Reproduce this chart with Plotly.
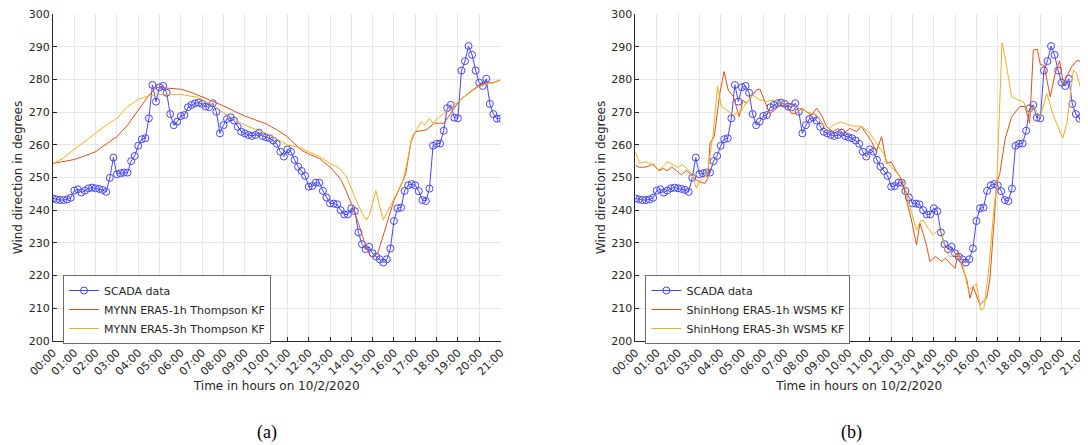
import plotly.graph_objects as go

# ---------------- data ----------------
hour_ticks = list(range(22))
hour_labels = [f"{h:02d}:00" for h in hour_ticks]

# SCADA wind direction, 10-minute samples from 00:00 to 21:00
scada_dir = [
    243.6, 243.3, 243.1, 243.1, 243.3, 243.8,
    246.0, 246.4, 245.4, 246.0, 246.7, 246.9, 246.7, 246.5, 246.2, 245.6,
    249.9, 256.1, 251.0, 251.3, 251.5, 251.5, 255.0, 256.6, 259.7, 261.7, 262.0, 268.1,
    278.3, 273.2, 277.6, 278.0, 275.9, 269.4, 266.0, 267.1, 268.8, 269.1, 271.5, 272.2,
    272.7, 272.9, 272.5, 271.7, 271.5, 272.7, 270.1, 263.5, 266.0, 267.9, 268.4, 267.4,
    265.5, 264.0, 263.5, 263.0, 262.7, 263.0, 263.7, 262.7, 262.3, 262.0, 261.3, 260.3,
    257.9, 256.4, 258.6, 257.9, 255.4, 253.3, 252.0, 250.5, 247.2, 247.4, 248.4, 248.4,
    245.9, 243.9, 242.1, 242.0, 241.8, 240.0, 238.7, 238.7, 240.6, 239.7, 233.2, 229.6,
    228.1, 228.8, 226.8, 225.8, 225.0, 224.0, 225.0, 228.3, 236.7, 240.6, 240.8, 245.9,
    247.6, 248.0, 247.6, 245.8, 243.1, 242.8, 246.6, 259.7, 260.3, 260.4, 264.3, 271.2,
    272.2, 268.3, 268.1, 282.7, 285.6, 290.2, 287.5, 282.7, 279.0, 278.0, 280.2, 272.5,
    269.4, 268.0, 268.0,
]
scada_hours = [i / 6 for i in range(len(scada_dir))]

# (a) MYNN ERA5-1h Thompson KF
mynn1h_hours = [0, 0.63, 1.0, 1.5, 2.0, 2.64, 3.0, 3.5, 4.0, 4.5, 4.85, 5.5, 6.0, 6.5, 7.0, 7.5,
                8.0, 8.5, 9.0, 9.5, 10.0, 10.5, 11.0, 11.3, 11.7, 12.0, 12.5, 13.0, 13.5, 13.75,
                14.0, 14.33, 14.6, 14.85, 15.0, 15.25, 15.5, 15.75, 16.0, 16.25, 16.55, 16.8,
                17.0, 17.5, 17.9, 18.35, 18.7, 19.1, 19.5, 20.0, 20.3, 20.6, 21.0]
mynn1h_dir = [254.3, 255.0, 255.5, 256.6, 257.9, 260.9, 262.5, 266.0, 270.6, 275.2, 277.6, 277.2,
              277.0, 276.0, 274.7, 273.2, 271.9, 270.3, 268.8, 267.6, 266.4, 264.6, 262.5, 260.5,
              258.2, 257.2, 255.8, 253.2, 249.5, 246.0, 242.0, 236.0, 230.5, 226.5, 225.5, 227.0,
              232.5, 237.5, 243.0, 246.5, 251.0, 261.0, 264.0, 264.5, 266.6, 266.6, 269.8, 273.7,
              275.8, 278.3, 279.0, 278.9, 279.8]

# (a) MYNN ERA5-3h Thompson KF
mynn3h_hours = [0, 0.5, 1.0, 1.5, 2.0, 2.5, 3.0, 3.5, 4.0, 4.5, 5.0, 6.0, 6.8, 7.5, 8.0, 9.0,
                10.0, 11.0, 11.6, 12.0, 12.5, 13.0, 13.4, 13.75, 14.0, 14.3, 14.55, 14.7, 14.85,
                15.15, 15.3, 15.5, 15.7, 16.0, 16.4, 16.6, 16.85, 17.1, 17.27, 17.43, 17.67,
                17.83, 18.15, 18.46, 18.86, 19.3, 19.86, 20.2, 20.6, 21.0]
mynn3h_dir = [254.3, 256.0, 258.6, 261.0, 263.5, 266.0, 268.1, 271.7, 273.9, 275.0, 275.4, 275.4,
              274.5, 272.2, 269.8, 266.0, 263.5, 260.0, 259.1, 257.9, 256.4, 254.3, 253.0, 250.5,
              246.5, 242.0, 238.5, 237.0, 238.5, 246.0, 242.0, 237.0, 239.7, 243.6, 248.5, 254.0,
              262.5, 265.0, 267.0, 266.0, 268.1, 266.6, 268.6, 270.1, 272.2, 274.7, 277.3, 278.3,
              279.0, 279.8]

# (b) ShinHong ERA5-1h WSM5 KF
shin1h_hours = [0, 0.2, 0.5, 0.83, 1.1, 1.3, 1.5, 1.7, 1.93, 2.16, 2.4, 2.63, 2.86, 3.0, 3.26,
                3.4, 3.5, 3.7, 3.96, 4.16, 4.35, 4.6, 4.87, 5.05, 5.2, 5.45, 5.68, 5.84, 6.07,
                6.3, 6.54, 6.78, 7.1, 7.32, 7.55, 7.8, 8.03, 8.26, 8.5, 8.73, 8.97, 9.28, 9.5,
                9.75, 10.06, 10.37, 10.6, 10.84, 11.08, 11.3, 11.55, 11.78, 12.0, 12.25, 12.5,
                12.72, 12.95, 13.19, 13.35, 13.5, 13.67, 13.82, 14.06, 14.2, 14.37, 14.53, 14.76,
                15.0, 15.15, 15.3, 15.55, 15.7, 15.85, 16.16, 16.48, 16.63, 16.8, 16.95, 17.1,
                17.34, 17.65, 18.04, 18.28, 18.5, 18.67, 18.86, 19.0, 19.17, 19.46, 19.7, 19.9,
                20.08, 20.27, 20.47, 20.73, 20.9, 21.0]
shin1h_dir = [253.6, 253.1, 253.2, 254.1, 252.1, 252.7, 252.1, 253.2, 252.1, 250.8, 252.2, 250.8,
              249.2, 248.7, 248.2, 249.8, 260.5, 262.5, 275.7, 282.4, 276.8, 274.7, 268.6, 273.7,
              272.7, 274.7, 276.8, 277.0, 273.2, 269.6, 270.6, 272.2, 271.7, 269.6, 269.6, 271.2,
              270.1, 269.1, 271.2, 269.1, 265.5, 264.0, 265.0, 263.5, 265.0, 264.0, 265.7, 263.5,
              261.0, 257.9, 262.5, 254.3, 254.8, 251.8, 249.2, 243.1, 237.0, 229.4, 236.0, 232.9,
              228.9, 224.3, 225.8, 225.3, 224.3, 225.3, 223.8, 222.2, 227.3, 223.2, 218.7, 213.1,
              216.6, 211.1, 213.1, 218.7, 233.9, 248.2, 251.3, 261.5, 268.6, 271.7, 271.7, 266.6,
              289.0, 289.2, 284.4, 284.4, 274.7, 281.9, 285.7, 278.8, 281.3, 283.9, 285.9, 285.4,
              273.2]

# (b) ShinHong ERA5-3h WSM5 KF
shin3h_hours = [0, 0.2, 0.5, 0.83, 1.1, 1.3, 1.5, 1.77, 2.0, 2.2, 2.4, 2.63, 2.86, 3.0, 3.26,
                3.4, 3.65, 3.85, 4.04, 4.27, 4.6, 4.9, 5.2, 5.5, 5.84, 6.15, 6.46, 6.78, 7.1,
                7.55, 8.03, 8.5, 8.97, 9.28, 9.6, 9.9, 10.2, 10.5, 10.77, 11.0, 11.3, 11.63,
                11.86, 12.3, 12.56, 12.88, 13.19, 13.35, 13.5, 13.74, 13.97, 14.2, 14.37, 14.53,
                14.76, 15.0, 15.15, 15.39, 15.62, 15.83, 16.0, 16.2, 16.35, 16.56, 16.8, 16.95,
                17.2, 17.34, 17.5, 17.65, 17.97, 18.2, 18.44, 18.67, 19.0, 19.3, 19.6, 19.85,
                20.05, 20.24, 20.4, 20.55, 20.7, 20.86, 21.0]
shin3h_dir = [257.9, 254.3, 254.8, 253.8, 252.3, 253.3, 254.8, 253.8, 253.1, 254.0, 252.8, 251.3,
              246.7, 248.7, 250.2, 252.3, 263.5, 277.8, 271.7, 270.6, 269.1, 270.1, 272.7, 275.2,
              273.7, 273.2, 273.7, 273.2, 272.5, 271.5, 270.1, 269.1, 264.5, 266.0, 267.0, 266.4,
              265.7, 265.7, 265.0, 263.5, 260.5, 257.4, 254.3, 251.3, 249.2, 241.1, 233.9, 236.5,
              237.0, 234.4, 232.4, 233.9, 233.4, 227.8, 225.8, 226.3, 226.3, 222.2, 215.6, 216.6,
              217.6, 209.5, 210.0, 220.7, 239.0, 247.7, 291.2, 286.9, 280.8, 274.7, 273.7, 273.2,
              269.6, 271.7, 268.6, 275.7, 269.1, 265.0, 262.0, 266.6, 275.7, 282.9, 281.9, 277.8,
              276.3]

legend_a = ["SCADA data", "MYNN ERA5-1h Thompson KF", "MYNN ERA5-3h Thompson KF"]
legend_b = ["SCADA data", "ShinHong ERA5-1h WSM5 KF", "ShinHong ERA5-3h WSM5 KF"]
panel_labels = ["(a)", "(b)"]
x_title = "Time in hours on 10/2/2020"
y_title = "Wind direction in degrees"

# ---------------- styling / layout ----------------
# the page body has an 8px default margin, so the figure is drawn 8px smaller
# and all target pixel positions are shifted by that offset
OFF = 8
W, H = 1088 - OFF, 445 - OFF
ML, MR, MT, MB = 53.3 - OFF, 4.7, 14 - OFF, 104
PW, PH = W - ML - MR, H - MT - MB


def px_x(px):
    return (px - OFF - ML) / PW


def px_y(py):
    return (H - MB - (py - OFF)) / PH


BLUE = "rgb(70,70,255)"
RED = "rgb(217,83,25)"
YEL = "rgb(237,177,32)"
AX = "#262626"
GRID = "#e6e6e6"
FONT = "DejaVu Sans"

fig = go.Figure()

panels = [
    ("x", "y", "legend", legend_a, (mynn1h_hours, mynn1h_dir), (mynn3h_hours, mynn3h_dir)),
    ("x2", "y2", "legend2", legend_b, (shin1h_hours, shin1h_dir), (shin3h_hours, shin3h_dir)),
]
for xa, ya, lg, names, s1, s3 in panels:
    fig.add_trace(go.Scatter(
        x=scada_hours, y=scada_dir, mode="lines+markers", name=names[0],
        xaxis=xa, yaxis=ya, legend=lg,
        line=dict(color=BLUE, width=1),
        marker=dict(symbol="circle-open", size=7, color=BLUE, line=dict(width=1, color=BLUE)),
    ))
    fig.add_trace(go.Scatter(
        x=s1[0], y=s1[1], mode="lines", name=names[1], xaxis=xa, yaxis=ya, legend=lg,
        line=dict(color=RED, width=1),
    ))
    fig.add_trace(go.Scatter(
        x=s3[0], y=s3[1], mode="lines", name=names[2], xaxis=xa, yaxis=ya, legend=lg,
        line=dict(color=YEL, width=1),
    ))

x_dom = [[0, px_x(500.8)], [px_x(635.7), 1]]

common_x = dict(
    range=[0, 21], tickvals=hour_ticks, ticktext=hour_labels, tickangle=-45,
    showgrid=True, gridcolor=GRID, gridwidth=1, zeroline=False, automargin=False,
    ticklabeloverflow="allow",
    showline=True, linecolor=AX, linewidth=1, ticks="inside", ticklen=4, tickcolor=AX,
    tickfont=dict(family=FONT, size=11, color=AX),
    title=dict(text=x_title, font=dict(family=FONT, size=12, color=AX), standoff=4),
)
common_y = dict(
    range=[200, 300], tickvals=list(range(200, 301, 10)),
    showgrid=True, gridcolor=GRID, gridwidth=1, zeroline=False, automargin=False,
    ticklabeloverflow="allow",
    showline=True, linecolor=AX, linewidth=1, ticks="inside", ticklen=4, tickcolor=AX,
    tickfont=dict(family=FONT, size=11, color=AX),
    title=dict(text=y_title, font=dict(family=FONT, size=12, color=AX), standoff=3),
)

legend_style = dict(
    xanchor="left", yanchor="middle", bgcolor="white", bordercolor="#6b6b6b", borderwidth=1,
    font=dict(family=FONT, size=11, color=AX), tracegroupgap=0, itemwidth=30,
)

label_style = dict(xref="paper", yref="paper", showarrow=False, xanchor="center",
                   yanchor="middle", font=dict(family="Liberation Serif", size=18, color="black"))

fig.update_layout(
    width=W, height=H, margin=dict(l=ML, r=MR, t=MT, b=MB, autoexpand=False),
    paper_bgcolor="white", plot_bgcolor="white",
    xaxis=dict(domain=x_dom[0], anchor="y", **common_x),
    yaxis=dict(domain=[0, 1], anchor="x", **common_y),
    xaxis2=dict(domain=x_dom[1], anchor="y2", **common_x),
    yaxis2=dict(domain=[0, 1], anchor="x2", **common_y),
    legend=dict(x=px_x(63.3), y=px_y(309.5), **legend_style),
    legend2=dict(x=px_x(645.7), y=px_y(309.5), **legend_style),
    annotations=[
        dict(text=panel_labels[0], x=px_x(267), y=px_y(432), **label_style),
        dict(text=panel_labels[1], x=px_x(852), y=px_y(432), **label_style),
    ],
)

fig.write_html("out.html")
